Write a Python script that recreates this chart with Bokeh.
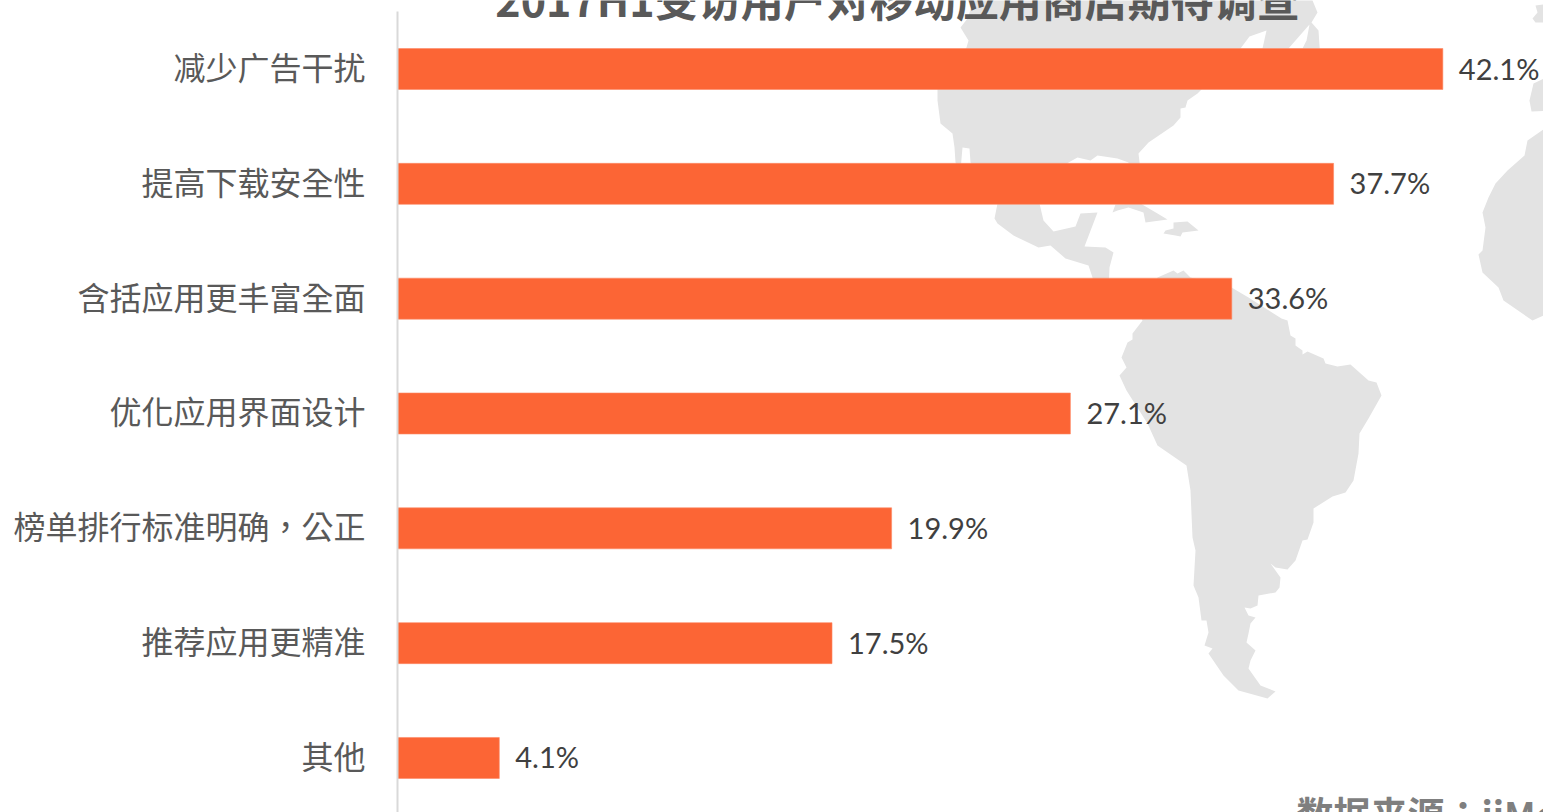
from bokeh.plotting import figure
from bokeh.models import Range1d, FixedTicker, ColumnDataSource
from bokeh.core.properties import value
from bokeh.embed import file_html
from bokeh.resources import INLINE

categories = ["减少广告干扰", "提高下载安全性", "含括应用更丰富全面", "优化应用界面设计",
              "榜单排行标准明确，公正", "推荐应用更精准", "其他"]
values = [42.1, 37.7, 33.6, 27.1, 19.9, 17.5, 4.1]
labels = ["42.1%", "37.7%", "33.6%", "27.1%", "19.9%", "17.5%", "4.1%"]
title_text = "2017H1受访用户对移动应用商店期待调查"
source_text = "数据来源：iiMedia Research"

# background world map outlines (screen pixels)
north_america = [(1310,-5),(1317,12),(1311,22),(1318,30),(1320,60),(1250,60),(1202,88),(1197,93),(1187,100),(1185,107),(1180,108),(1180,117),(1173,125),(1148,142),(1138,153),(1140,170),(1128,170),(1128,162),(1117,158),(1097,155),(1090,160),(1077,157),(1068,162),(1050,180),(1039,203),(1043,220),(1053,231),(1075,226),(1080,213),(1097,212),(1084,246),(1105,247),(1113,252),(1109,267),(1108,290),(1142,300),(1157,277),(1173,270),(1177,273),(1183,270),(1190,277),(1231,287),(1248,297),(1281,318),(1287,320),(1290,335),(1295,338),(1295,345),(1302,350),(1302,354),(1307,351),(1323,358),(1325,363),(1337,366),(1350,364),(1368,380),(1376,382),(1381,395),(1368,418),(1359,433),(1358,453),(1353,480),(1345,492),(1332,496),(1313,508),(1313,522),(1307,539),(1302,540),(1295,560),(1287,569),(1275,567),(1270,563),(1280,577),(1279,587),(1275,592),(1258,595),(1257,605),(1250,608),(1244,607),(1248,615),(1255,617),(1250,623),(1248,633),(1246,642),(1255,650),(1250,660),(1248,668),(1260,685),(1275,691),(1267,698),(1238,690),(1223,675),(1208,653),(1212,648),(1204,645),(1208,632),(1206,620),(1201,620),(1198,597),(1193,585),(1195,550),(1192,537),(1190,490),(1186,465),(1157,445),(1147,423),(1126,390),(1119,375),(1126,367),(1121,357),(1127,342),(1132,339),(1132,333),(1142,320),(1130,300),(1092,290),(1092,277),(1088,265),(1065,258),(1050,245),(1038,247),(1013,235),(997,223),(994,218),(997,203),(990,185),(970,162),(969,148),(962,147),(960,170),(955,162),(954,147),(952,133),(940,123),(937,100),(937,85),(966,47),(968,40),(960,27),(967,18),(975,-5)]
cuba = [(1112,212),(1115,204),(1140,203),(1157,213),(1167,219),(1145,222),(1143,212),(1128,207),(1117,210)]
hispaniola = [(1173,222),(1187,221),(1198,230),(1182,232),(1180,236),(1175,235),(1163,233),(1165,230),(1173,228)]
iberia = [(1550,3),(1535,5),(1537,12),(1532,18),(1535,22),(1550,22)]
morocco = [(1550,75),(1533,83),(1529,100),(1531,111),(1550,110)]
africa = [(1550,124),(1527,140),(1524,155),(1507,170),(1495,183),(1488,197),(1482,212),(1485,227),(1482,250),(1478,254),(1482,272),(1498,287),(1503,300),(1532,320),(1550,312)]
gulf_a = [(1240,48),(1249,36),(1266,30),(1262,48)]
gulf_b = [(1288,48),(1309,24),(1306,40),(1302,48)]
lands = [north_america, cuba, hispaniola, iberia, morocco, africa]
notches = [gulf_a, gulf_b]

W, H = 1543, 812
X0 = 397
PX_PER_UNIT = 24.83
ROW = 114.83
TOP = 68.5
LABEL_LIFT = 3 / ROW

p = figure(width=W, height=H, output_backend="svg", toolbar_location=None,
           x_range=Range1d(0, (W - X0) / PX_PER_UNIT),
           y_range=Range1d((H - TOP) / ROW, -TOP / ROW),
           min_border_left=X0, min_border_right=0, min_border_top=0, min_border_bottom=0,
           outline_line_color=None, x_axis_location=None, background_fill_color="white",
           border_fill_color="white")
p.extra_x_ranges = {"px": Range1d(X0, W)}
p.extra_y_ranges = {"px": Range1d(H, 0)}
p.grid.visible = False

p.patches(xs=[[c[0] for c in s] for s in lands], ys=[[c[1] for c in s] for s in lands],
          x_range_name="px", y_range_name="px", fill_color="#e3e3e3", line_color=None)
p.patches(xs=[[c[0] for c in s] for s in notches], ys=[[c[1] for c in s] for s in notches],
          x_range_name="px", y_range_name="px", fill_color="white", line_color=None)

rows = list(range(len(categories)))
src = ColumnDataSource(dict(y=rows, v=values, t=labels))
p.hbar(y="y", left=0, right="v", height=41 / ROW, source=src, fill_color="#fc6535",
       line_color="#fd8a66", line_width=0.6)
p.text(x="v", y="y", text="t", source=src, x_offset=16, y_offset=-1, text_baseline="middle",
       text_font=value("Lato"), text_font_size="29px", text_color="#404040")

p.text(x=[897], y=[-3], text=[title_text], x_range_name="px", y_range_name="px",
       text_align="center", text_baseline="alphabetic", text_font=value("Noto Sans CJK SC"),
       text_font_style="bold", text_font_size="43px", text_color="#595959")
p.text(x=[1296], y=[812], text=[source_text], x_range_name="px", y_range_name="px",
       text_align="left", text_baseline="alphabetic", text_font=value("Noto Sans CJK TC"),
       text_font_style="bold", text_font_size="37px", text_color="#7f7f7f")

ax = p.yaxis[0]
tick_positions = [r - LABEL_LIFT for r in rows]
ax.ticker = FixedTicker(ticks=tick_positions)
ax.major_label_overrides = {t: c for t, c in zip(tick_positions, categories)}
ax.major_tick_line_color = None
ax.minor_tick_line_color = None
ax.major_tick_out = 0
ax.major_label_standoff = 32
ax.major_label_text_font = "Noto Sans CJK TC"
ax.major_label_text_font_size = "32px"
ax.major_label_text_color = "#595959"
ax.axis_line_color = "#d9d9d9"
ax.axis_line_width = 2
ax.bounds = (-0.5, (H - TOP) / ROW)

open("out.html", "w").write(file_html(p, INLINE))
